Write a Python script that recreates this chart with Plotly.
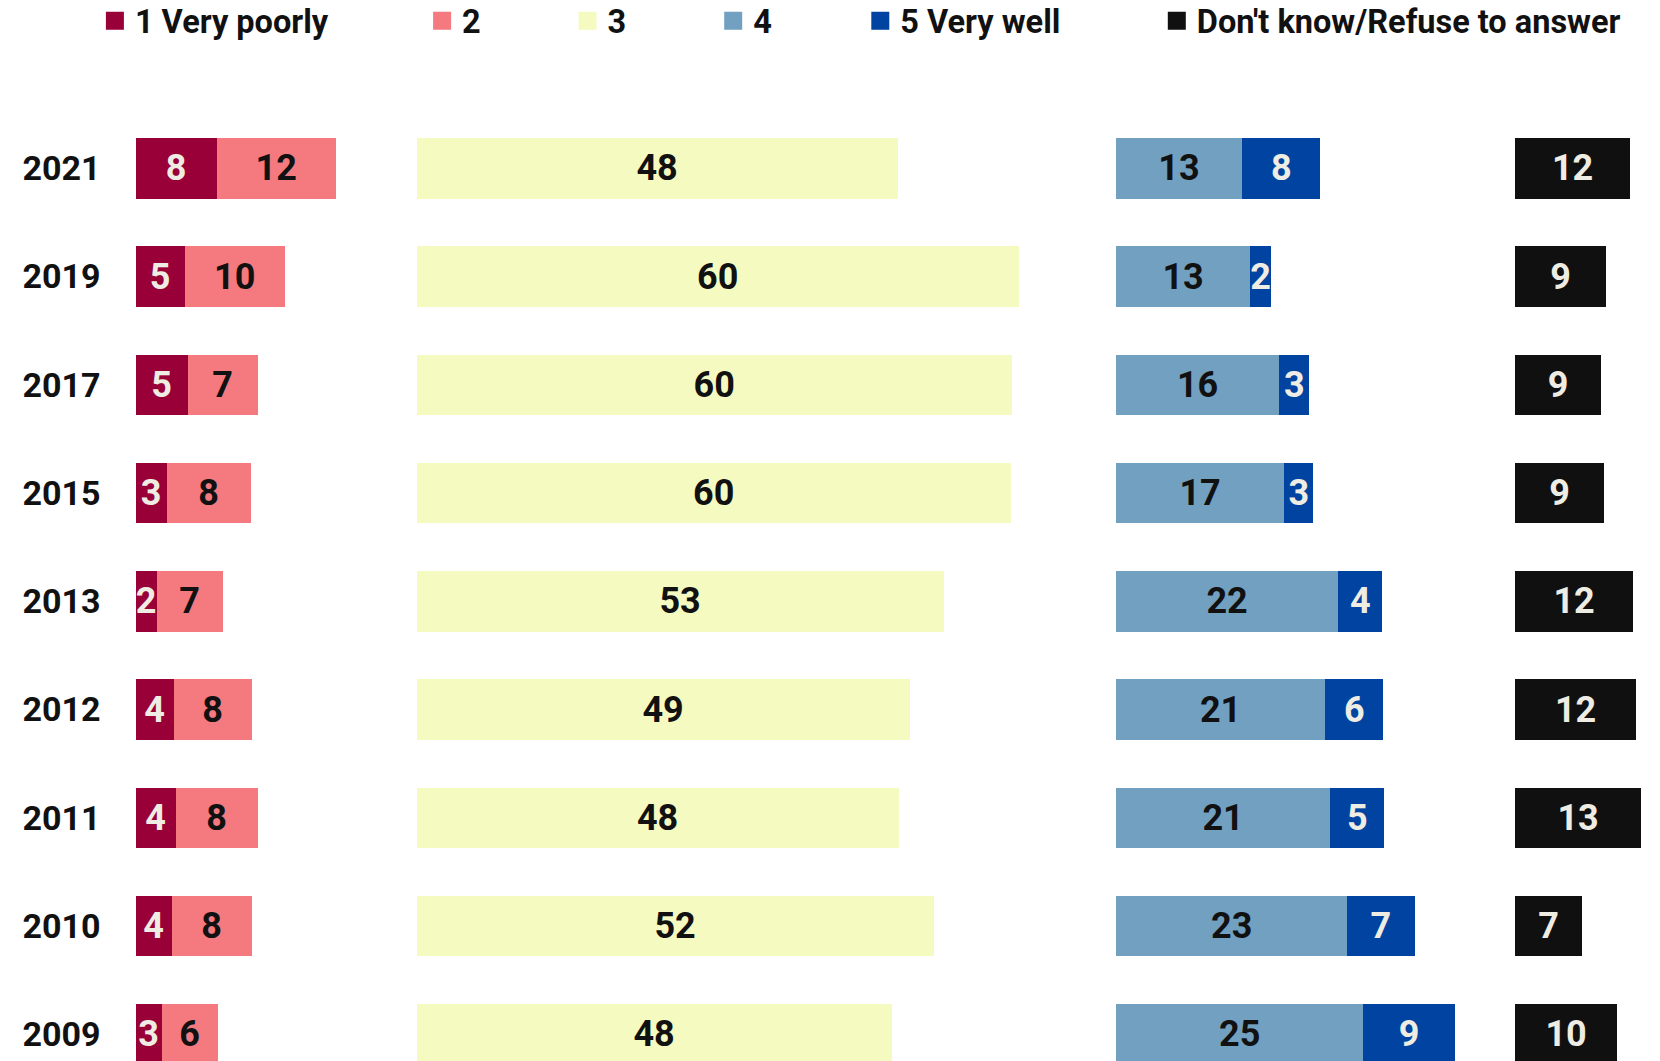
import plotly.graph_objects as go

# ---------------- data ----------------
years = ["2021", "2019", "2017", "2015", "2013", "2012", "2011", "2010", "2009"]

very_poorly = [8.1, 4.9, 5.2, 3.1, 2.1, 3.8, 4.0, 3.6, 2.6]
poorly = [11.9, 10.0, 7.0, 8.4, 6.6, 7.8, 8.2, 8.0, 5.6]
neutral = [48.0, 60.1, 59.4, 59.3, 52.6, 49.2, 48.1, 51.6, 47.4]
well = [12.6, 13.4, 16.3, 16.8, 22.2, 20.9, 21.4, 23.1, 24.7]
very_well = [7.8, 2.1, 3.0, 2.9, 4.4, 5.8, 5.4, 6.7, 9.1]
dont_know = [11.5, 9.1, 8.6, 8.9, 11.8, 12.1, 12.6, 6.7, 10.2]

lab_very_poorly = ["8", "5", "5", "3", "2", "4", "4", "4", "3"]
lab_poorly = ["12", "10", "7", "8", "7", "8", "8", "8", "6"]
lab_neutral = ["48", "60", "60", "60", "53", "49", "48", "52", "48"]
lab_well = ["13", "13", "16", "17", "22", "21", "21", "23", "25"]
lab_very_well = ["8", "2", "3", "3", "4", "6", "5", "7", "9"]
lab_dont_know = ["12", "9", "9", "9", "12", "12", "13", "7", "10"]

names = ["1 Very poorly", "2", "3", "4", "5 Very well", "Don't know/Refuse to answer"]

# ---------------- styles ----------------
C_VP = "#990038"
C_P = "#F47A80"
C_N = "#F5FAC0"
C_W = "#72A0C1"
C_VW = "#0043A0"
C_DK = "#101010"
LIGHT = "#EFEDE3"
DARK = "#111111"
FONT = "Roboto"

FIG_W, FIG_H = 1660, 1061
ML, MR, MT, MB = 135, 5, 100, 0
PW = FIG_W - ML - MR
PH = FIG_H - MT - MB
PX_PER_UNIT = 10.02

group_px = [(135.5, 395.0), (416.6, 1095.0), (1115.9, 1495.0), (1515.0, 1655.0)]

fig = go.Figure()

series = [
    (names[0], very_poorly, lab_very_poorly, C_VP, LIGHT, "x"),
    (names[1], poorly, lab_poorly, C_P, DARK, "x"),
    (names[2], neutral, lab_neutral, C_N, DARK, "x2"),
    (names[3], well, lab_well, C_W, DARK, "x3"),
    (names[4], very_well, lab_very_well, C_VW, LIGHT, "x3"),
    (names[5], dont_know, lab_dont_know, C_DK, LIGHT, "x4"),
]

for name, vals, labs, col, tcol, xa in series:
    fig.add_trace(go.Bar(
        name=name, x=vals, y=years, orientation="h",
        xaxis=xa, yaxis="y",
        marker=dict(color=col, line=dict(width=0)),
        text=labs, textposition="inside", insidetextanchor="middle",
        textangle=0, constraintext="none",
        textfont=dict(family=FONT, size=36, color=tcol, weight="bold"),
        showlegend=False, hoverinfo="x+y+name",
    ))

# legend entries (one legend per item, to reproduce spacing)
legend_text_px = [133.4, 460.6, 606.0, 751.7, 898.8, 1195.3]
legend_keys = ["legend", "legend2", "legend3", "legend4", "legend5", "legend6"]
for (name, vals, labs, col, tcol, xa), lk in zip(series, legend_keys):
    fig.add_trace(go.Scatter(
        x=[None], y=[None], mode="markers", name=name,
        xaxis="x", yaxis="y", legend=lk, showlegend=True,
        marker=dict(symbol="square", size=16, color=col, line=dict(color=col, width=2)),
    ))

layout = dict(
    width=FIG_W, height=FIG_H,
    margin=dict(l=ML, r=MR, t=MT, b=MB, autoexpand=False),
    paper_bgcolor="white", plot_bgcolor="white",
    barmode="stack", bargap=0.441,
    font=dict(family=FONT, color=DARK),
    yaxis=dict(
        type="category", categoryorder="array", categoryarray=years,
        range=[8.247, -0.631], showgrid=False, zeroline=False, showline=False,
        ticks="", tickfont=dict(family=FONT, size=34, color=DARK, weight="bold"),
        ticklabelstandoff=34, anchor="x", fixedrange=True,
    ),
)

axis_names = ["xaxis", "xaxis2", "xaxis3", "xaxis4"]
for an, (s, e) in zip(axis_names, group_px):
    layout[an] = dict(
        domain=[(s - ML) / PW, (e - ML) / PW],
        range=[0, (e - s) / PX_PER_UNIT],
        visible=False, showgrid=False, zeroline=False, fixedrange=True,
        anchor="y",
    )

legend_y = (FIG_H - MB - 21) / PH
for lk, tx in zip(legend_keys, legend_text_px):
    layout[lk] = dict(
        x=(tx - 38.5 - ML) / PW, y=legend_y, xanchor="left", yanchor="middle",
        orientation="h", bgcolor="rgba(0,0,0,0)", borderwidth=0,
        font=dict(family=FONT, size=32.5, color=DARK, weight="bold"),
        itemclick=False, itemdoubleclick=False,
    )

fig.update_layout(**layout)
fig.write_html(
    "out.html",
    config={"displayModeBar": False},
    post_script="document.body.style.margin='0';",
)
